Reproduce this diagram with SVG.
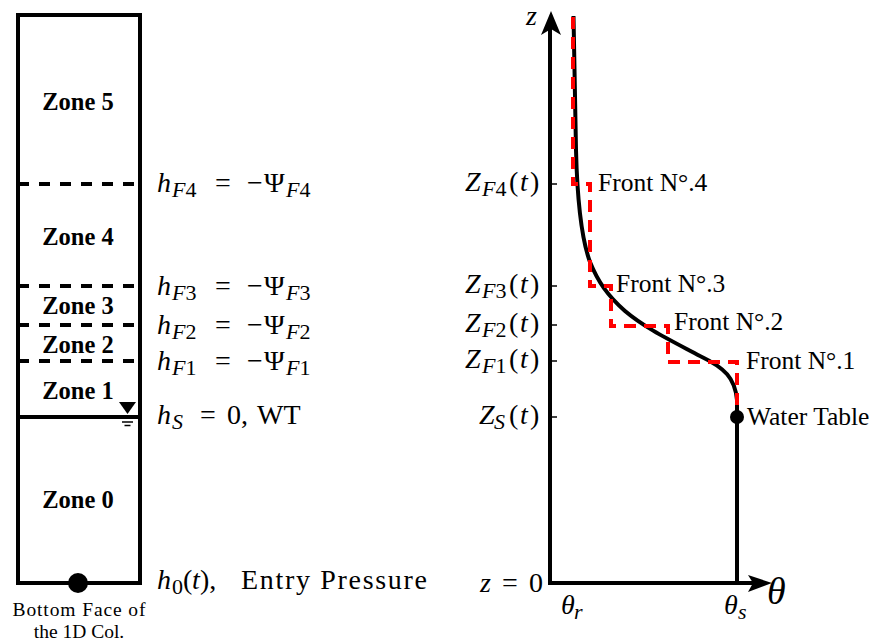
<svg xmlns="http://www.w3.org/2000/svg" width="880" height="643" viewBox="0 0 880 643">
<style>
.t{font-family:"Liberation Serif",serif;fill:#000}
.m{font-size:28px}
.i{font-style:italic}
.s{font-size:22px}
.zone{font-size:24.5px;font-weight:bold;text-anchor:middle}
.fr{font-size:25.5px}
.bk{stroke:#000;stroke-width:4;fill:none}
.dash{stroke:#000;stroke-width:4;stroke-dasharray:11 10;fill:none}
.tick{stroke:#000;stroke-width:1.5}
.red{stroke:#ff0000;stroke-width:4;stroke-dasharray:12 8;fill:none}
</style>
<rect width="880" height="643" fill="#fff"/>

<g id="column">
  <rect x="18" y="15" width="122" height="568" class="bk"/>
  <line x1="18" y1="417" x2="140" y2="417" class="bk"/>
  <circle cx="78" cy="583" r="10" fill="#000"/>
</g>
<g id="front-lines">
  <line x1="18" y1="184" x2="140" y2="184" class="dash"/>
  <line x1="18" y1="286" x2="140" y2="286" class="dash"/>
  <line x1="18" y1="325" x2="140" y2="325" class="dash"/>
  <line x1="18" y1="361" x2="140" y2="361" class="dash"/>
</g>
<g id="wt-symbol">
  <polygon points="119,402 136,402 127.5,414" fill="#000"/>
  <line x1="122" y1="422" x2="133" y2="422" stroke="#000" stroke-width="1.5"/>
  <line x1="124.5" y1="425.5" x2="130.5" y2="425.5" stroke="#000" stroke-width="1.5"/>
</g>
<g id="zones" class="t zone">
  <text x="78" y="110">Zone 5</text>
  <text x="78" y="245">Zone 4</text>
  <text x="78" y="314">Zone 3</text>
  <text x="78" y="353">Zone 2</text>
  <text x="78" y="399">Zone 1</text>
  <text x="78" y="508">Zone 0</text>
</g>
<g id="bottom-label" class="t" font-size="19.5" text-anchor="middle">
  <text x="79" y="616" textLength="133" lengthAdjust="spacing">Bottom Face of</text>
  <text x="79" y="638">the 1D Col.</text>
</g>

<g id="head-labels" class="t m">
  <text y="192"><tspan class="i" x="157">h</tspan><tspan class="i s" x="172" dy="5">F</tspan><tspan class="s">4</tspan><tspan x="215" dy="-5">=</tspan><tspan x="247">−</tspan><tspan x="264">Ψ</tspan><tspan class="i s" x="286" dy="5">F</tspan><tspan class="s">4</tspan></text>
  <text y="295"><tspan class="i" x="157">h</tspan><tspan class="i s" x="172" dy="5">F</tspan><tspan class="s">3</tspan><tspan x="215" dy="-5">=</tspan><tspan x="247">−</tspan><tspan x="264">Ψ</tspan><tspan class="i s" x="286" dy="5">F</tspan><tspan class="s">3</tspan></text>
  <text y="334"><tspan class="i" x="157">h</tspan><tspan class="i s" x="172" dy="5">F</tspan><tspan class="s">2</tspan><tspan x="215" dy="-5">=</tspan><tspan x="247">−</tspan><tspan x="264">Ψ</tspan><tspan class="i s" x="286" dy="5">F</tspan><tspan class="s">2</tspan></text>
  <text y="370"><tspan class="i" x="157">h</tspan><tspan class="i s" x="172" dy="5">F</tspan><tspan class="s">1</tspan><tspan x="215" dy="-5">=</tspan><tspan x="247">−</tspan><tspan x="264">Ψ</tspan><tspan class="i s" x="286" dy="5">F</tspan><tspan class="s">1</tspan></text>
  <text y="424"><tspan class="i" x="157">h</tspan><tspan class="i s" x="172" dy="5">S</tspan><tspan x="200" dy="-5">=</tspan><tspan x="227">0,</tspan><tspan x="257">WT</tspan></text>
  <text y="589"><tspan class="i" x="157">h</tspan><tspan class="s" x="172" dy="5">0</tspan><tspan x="183" dy="-5">(</tspan><tspan class="i" x="192">t</tspan><tspan x="200">),</tspan></text>
  <text x="241" y="589" textLength="186" lengthAdjust="spacing">Entry Pressure</text>
</g>

<g id="axes">
  <line x1="550" y1="585" x2="550" y2="28" class="bk"/>
  <path d="M551,11 L561,35 L551,29 L541,35 Z" fill="#000"/>
  <line x1="548" y1="583" x2="755" y2="583" class="bk"/>
  <path d="M772,583 L748,575 L753,583 L748,592 Z" fill="#000"/>
  <line x1="737" y1="417" x2="737" y2="583" class="bk"/>
  <line x1="550" y1="184" x2="557" y2="184" class="tick"/>
  <line x1="550" y1="286" x2="557" y2="286" class="tick"/>
  <line x1="550" y1="325" x2="557" y2="325" class="tick"/>
  <line x1="550" y1="361" x2="557" y2="361" class="tick"/>
  <line x1="550" y1="417" x2="557" y2="417" class="tick"/>
</g>
<g id="axis-labels" class="t m">
  <text class="i" x="526" y="25" font-size="28">z</text>
  <text y="191"><tspan class="i" x="465">Z</tspan><tspan class="i s" x="482" dy="5">F</tspan><tspan class="s">4</tspan><tspan x="509" dy="-5">(</tspan><tspan class="i" x="520">t</tspan><tspan x="530">)</tspan></text>
  <text y="293"><tspan class="i" x="465">Z</tspan><tspan class="i s" x="482" dy="5">F</tspan><tspan class="s">3</tspan><tspan x="509" dy="-5">(</tspan><tspan class="i" x="520">t</tspan><tspan x="530">)</tspan></text>
  <text y="332"><tspan class="i" x="465">Z</tspan><tspan class="i s" x="482" dy="5">F</tspan><tspan class="s">2</tspan><tspan x="509" dy="-5">(</tspan><tspan class="i" x="520">t</tspan><tspan x="530">)</tspan></text>
  <text y="368"><tspan class="i" x="465">Z</tspan><tspan class="i s" x="482" dy="5">F</tspan><tspan class="s">1</tspan><tspan x="509" dy="-5">(</tspan><tspan class="i" x="520">t</tspan><tspan x="530">)</tspan></text>
  <text y="424"><tspan class="i" x="479">Z</tspan><tspan class="i s" x="494" dy="5">S</tspan><tspan x="509" dy="-5">(</tspan><tspan class="i" x="520">t</tspan><tspan x="530">)</tspan></text>
  <text y="592"><tspan class="i" x="480">z</tspan><tspan x="502">=</tspan><tspan x="529">0</tspan></text>
  <text y="614"><tspan class="i" x="561">θ</tspan><tspan class="i s" x="574" dy="5">r</tspan></text>
  <text y="614"><tspan class="i" x="724">θ</tspan><tspan class="i s" x="738" dy="5">s</tspan></text>
  <text class="i" x="767" y="604" font-size="38">θ</text>
</g>

<g id="connectors">
  <path d="M573.5,16 L576,150 C577,190 580,235 590,262 C598,282 608,296 625,311 C645,328 670,340 700,356 C725,368 735,378 737,400 L737,417" class="bk"/>
  <path d="M573,17 V184 H590 V286 H611 V326 H668 V362 H737 V417" class="red"/>
  <circle cx="737" cy="417" r="7" fill="#000"/>
</g>
<g id="front-labels" class="t fr">
  <text x="598" y="191">Front N°.4</text>
  <text x="616" y="292">Front N°.3</text>
  <text x="674" y="330">Front N°.2</text>
  <text x="746" y="369">Front N°.1</text>
  <text x="747" y="425">Water Table</text>
</g>
</svg>
